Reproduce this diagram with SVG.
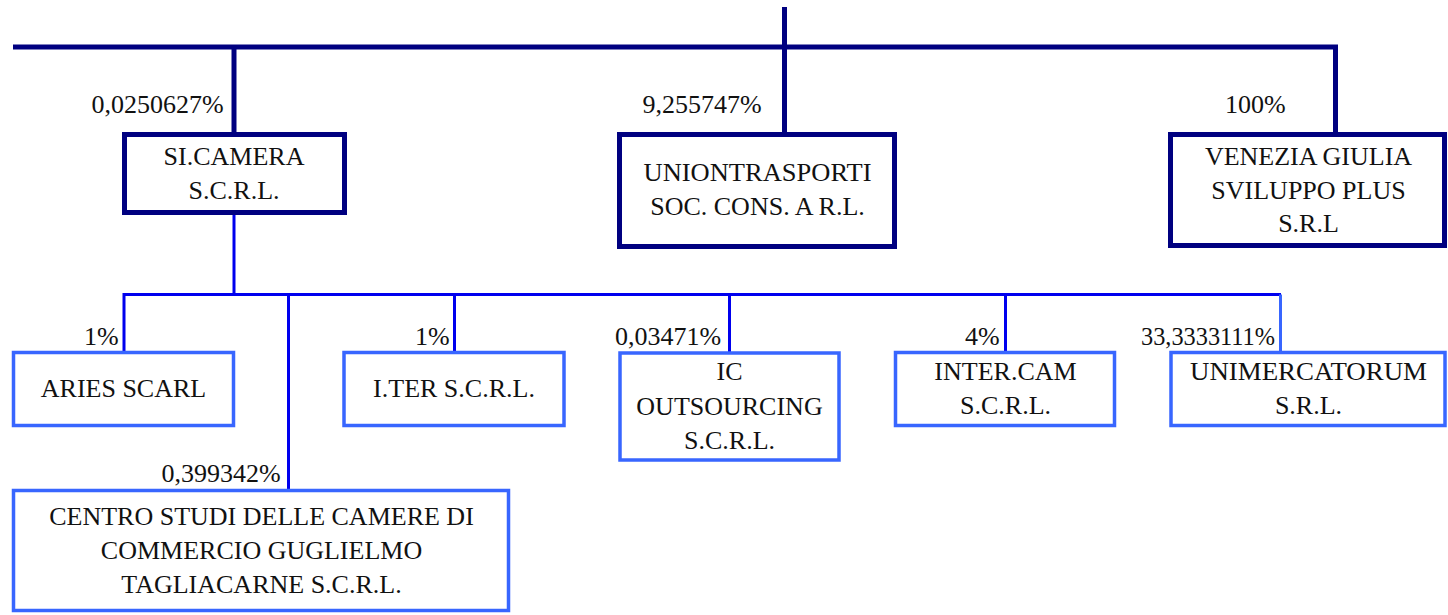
<svg xmlns="http://www.w3.org/2000/svg" width="1448" height="615" viewBox="0 0 1448 615">
<style>
text{font-family:'Liberation Serif','Times New Roman',serif;font-size:26px;fill:#111}
.c{text-anchor:middle}
.top{fill:#fff;stroke:#000080;stroke-width:5}
.sub{fill:#fff;stroke:#3866ff;stroke-width:3.5}
.l1{fill:none;stroke:#000080;stroke-width:5;stroke-linejoin:miter}
.l2{fill:none;stroke:#0000ee;stroke-width:3}
</style>
<rect width="1448" height="615" fill="#fff"/>
<g id="connectors">
<path class="l1" d="M13,47 H1335.5 V132"/>
<path class="l1" d="M784.5,7 V132"/>
<path class="l1" d="M234,47 V132"/>
<path class="l2" d="M234,215 V294.5"/>
<path class="l2" d="M124,352 V294.5 H1281"/>
<path class="l2" d="M288.5,294.5 V489"/>
<path class="l2" d="M454.5,294.5 V352"/>
<path class="l2" d="M729.5,294.5 V352"/>
<path class="l2" d="M1005.5,294.5 V352"/>
<path fill="none" stroke="#3866ff" stroke-width="3" d="M1280.5,294.5 V352"/>
<text x="91.5" y="112.5">0,0250627%</text>
<text x="642.5" y="112.5">9,255747%</text>
<text x="1225" y="112.5">100%</text>
<text x="84" y="345">1%</text>
<text x="415" y="345">1%</text>
<text x="615" y="345">0,03471%</text>
<text x="965" y="345">4%</text>
<text x="1141" y="345" textLength="134" lengthAdjust="spacingAndGlyphs">33,3333111%</text>
<text x="161.5" y="482">0,399342%</text>
</g>
<g id="si-camera">
<rect class="top" x="124.5" y="134.5" width="220" height="78"/>
<text class="c" x="234" y="165">SI.CAMERA</text>
<text class="c" x="234" y="198.5">S.C.R.L.</text>
</g>
<g id="uniontrasporti">
<rect class="top" x="619.5" y="134.5" width="275" height="112"/>
<text class="c" x="757.5" y="181" textLength="228" lengthAdjust="spacingAndGlyphs">UNIONTRASPORTI</text>
<text class="c" x="757.5" y="215">SOC. CONS. A R.L.</text>
</g>
<g id="venezia-giulia">
<rect class="top" x="1170.5" y="134.5" width="274" height="111"/>
<text class="c" x="1308.5" y="164.5">VENEZIA GIULIA</text>
<text class="c" x="1308.5" y="198.5">SVILUPPO PLUS</text>
<text class="c" x="1308.5" y="232">S.R.L</text>
</g>
<g id="aries">
<rect class="sub" x="13.5" y="352.5" width="220" height="73"/>
<text class="c" x="123.5" y="397">ARIES SCARL</text>
</g>
<g id="iter">
<rect class="sub" x="344" y="352.5" width="220" height="73"/>
<text class="c" x="454" y="397">I.TER S.C.R.L.</text>
</g>
<g id="ic-outsourcing">
<rect class="sub" x="620" y="353" width="219" height="107"/>
<text class="c" x="729.5" y="380">IC</text>
<text class="c" x="729.5" y="414.5">OUTSOURCING</text>
<text class="c" x="729.5" y="448.5">S.C.R.L.</text>
</g>
<g id="inter-cam">
<rect class="sub" x="895.5" y="352.5" width="219" height="73"/>
<text class="c" x="1005.5" y="380">INTER.CAM</text>
<text class="c" x="1005.5" y="413.5">S.C.R.L.</text>
</g>
<g id="unimercatorum">
<rect class="sub" x="1171" y="352.5" width="274" height="73"/>
<text class="c" x="1308.5" y="380" textLength="237" lengthAdjust="spacingAndGlyphs">UNIMERCATORUM</text>
<text class="c" x="1308.5" y="413.5">S.R.L.</text>
</g>
<g id="centro-studi">
<rect class="sub" x="13.5" y="490.5" width="495" height="120"/>
<text class="c" x="261.5" y="525">CENTRO STUDI DELLE CAMERE DI</text>
<text class="c" x="261.5" y="559">COMMERCIO GUGLIELMO</text>
<text class="c" x="261.5" y="593">TAGLIACARNE S.C.R.L.</text>
</g>
</svg>
